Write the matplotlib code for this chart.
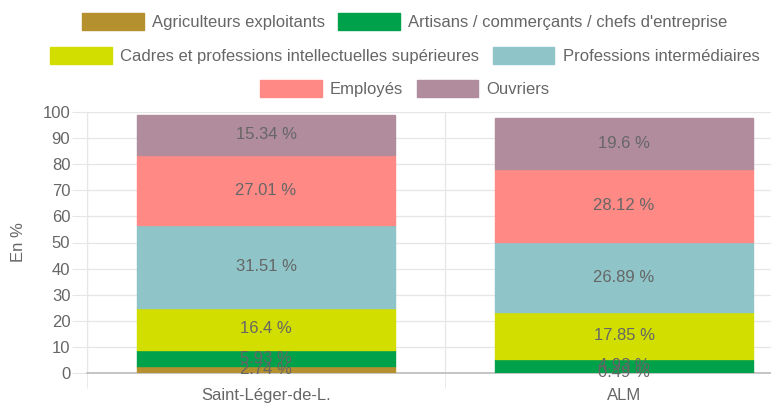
import matplotlib
matplotlib.use("Agg")
import matplotlib.pyplot as plt
from matplotlib.patches import Patch

communes = ["Saint-Léger-de-L.", "ALM"]
categories = ["Agriculteurs exploitants", "Artisans / commerçants / chefs d'entreprise",
              "Cadres et professions intellectuelles supérieures", "Professions intermédiaires",
              "Employés", "Ouvriers"]
agriculteurs = [2.74, 0.49]
artisans = [5.93, 4.93]
cadres = [16.4, 17.85]
prof_inter = [31.51, 26.89]
employes = [27.01, 28.12]
ouvriers = [15.34, 19.6]
series = [agriculteurs, artisans, cadres, prof_inter, employes, ouvriers]
colors = ["#b5902f", "#00a14b", "#d1de00", "#8fc5c9", "#ff8a85", "#b08c9d"]

TXT = "#666666"
FS = 12
plt.rcParams["font.family"] = ["Liberation Sans", "DejaVu Sans"]

fig = plt.figure(figsize=(7.71, 4.04), dpi=100)
# plot area runs past the right edge of the picture, as in the reference
ax = fig.add_axes([87 / 771, 31 / 404, 716 / 771, 261 / 404])

x = list(range(len(communes)))
bottom = [0.0] * len(communes)
for vals, c in zip(series, colors):
    bars = ax.bar(x, vals, bottom=bottom, width=0.72, color=c, edgecolor=c, zorder=3)
    ax.bar_label(bars, labels=[f"{v:g} %" for v in vals], label_type="center",
                 color=TXT, fontsize=FS, zorder=4)
    bottom = [b + v for b, v in zip(bottom, vals)]

ax.set_xlim(-0.5, 1.5)
ax.set_ylim(0, 100)
ax.set_yticks(range(0, 101, 10))
ax.set_xticks(x)
ax.set_xticklabels(communes)
ax.set_xticks([-0.5, 0.5, 1.5], minor=True)
ax.tick_params(axis="x", which="major", length=0, colors=TXT, labelsize=FS, pad=11)
ax.tick_params(axis="x", which="minor", length=11, color="#e6e6e6")
ax.tick_params(axis="y", length=11, color="#e6e6e6", labelcolor=TXT, labelsize=FS, pad=1)
ax.grid(axis="y", color="#e6e6e6", lw=0.9, zorder=0)
ax.grid(axis="x", which="minor", color="#e6e6e6", lw=0.9, zorder=0)
for s in ["top", "right"]:
    ax.spines[s].set_visible(False)
ax.spines["left"].set_color("#e6e6e6")
ax.spines["bottom"].set_color("#bbbbbb")
ax.spines["bottom"].set_linewidth(1.2)
ax.set_ylabel("En %", color=TXT, fontsize=FS, labelpad=12)

handles = [Patch(facecolor=c, edgecolor=c) for c in colors]
rows = [(0, 2, 0.946), (2, 4, 0.862), (4, 6, 0.780)]
for i0, i1, yy in rows:
    leg = fig.legend(handles[i0:i1], categories[i0:i1], loc="center", bbox_to_anchor=(0.525, yy),
                     ncol=2, frameon=False, fontsize=FS, handlelength=3.7, handleheight=1.15,
                     handletextpad=0.5, columnspacing=0.8, borderpad=0)
    for t in leg.get_texts():
        t.set_color(TXT)

fig.savefig("out.png", dpi=100)
